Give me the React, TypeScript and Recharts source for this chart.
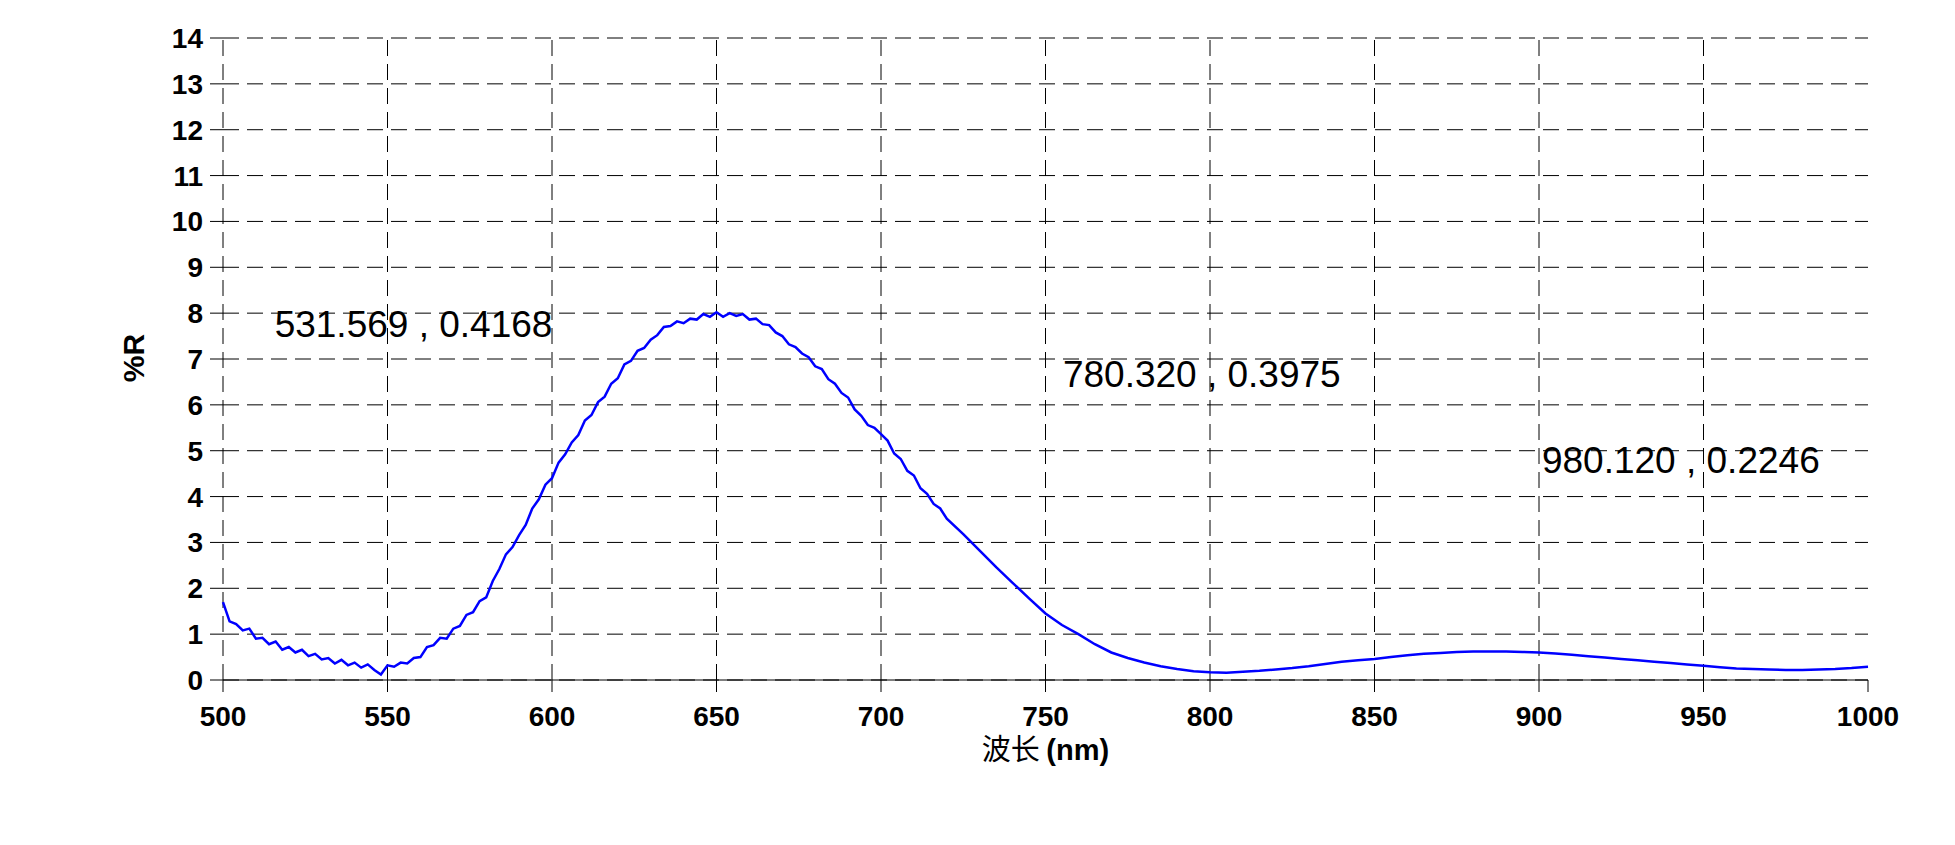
import { LineChart, Line, XAxis, YAxis, CartesianGrid, ReferenceLine, ReferenceDot } from 'recharts';

// wavelength (nm) and reflectance (%R)
const wavelengths = [
  500, 502, 504, 506, 508, 510, 512, 514, 516, 518, 520, 522, 524, 526, 528, 530, 532, 534, 536, 538,
  540, 542, 544, 546, 548, 550, 552, 554, 556, 558, 560, 562, 564, 566, 568, 570, 572, 574, 576, 578,
  580, 582, 584, 586, 588, 590, 592, 594, 596, 598, 600, 602, 604, 606, 608, 610, 612, 614, 616, 618,
  620, 622, 624, 626, 628, 630, 632, 634, 636, 638, 640, 642, 644, 646, 648, 650, 652, 654, 656, 658,
  660, 662, 664, 666, 668, 670, 672, 674, 676, 678, 680, 682, 684, 686, 688, 690, 692, 694, 696, 698,
  700, 702, 704, 706, 708, 710, 712, 714, 716, 718, 720,
  725, 730, 735, 740, 745, 750, 755, 760, 765, 770, 775, 780, 785, 790, 795, 800, 805, 810, 815, 820,
  825, 830, 835, 840, 845, 850, 855, 860, 865, 870, 875, 880, 885, 890, 895, 900, 905, 910, 915, 920,
  925, 930, 935, 940, 945, 950, 955, 960, 965, 970, 975, 980, 985, 990, 995, 1000,
];

const reflectance = [
  1.70, 1.28, 1.22, 1.08, 1.12, 0.90, 0.92, 0.78, 0.84, 0.66, 0.72, 0.60, 0.66, 0.52, 0.57, 0.45, 0.48, 0.36, 0.44, 0.32,
  0.38, 0.27, 0.34, 0.22, 0.12, 0.32, 0.29, 0.38, 0.36, 0.48, 0.50, 0.72, 0.76, 0.92, 0.90, 1.12, 1.18, 1.42, 1.48, 1.72,
  1.80, 2.16, 2.42, 2.74, 2.90, 3.16, 3.38, 3.74, 3.94, 4.26, 4.40, 4.74, 4.92, 5.18, 5.34, 5.66, 5.78, 6.06, 6.18, 6.46,
  6.58, 6.88, 6.96, 7.18, 7.24, 7.42, 7.52, 7.70, 7.72, 7.82, 7.78, 7.88, 7.86, 7.98, 7.92, 8.02, 7.92, 8.00, 7.94, 7.98,
  7.86, 7.88, 7.76, 7.74, 7.58, 7.50, 7.32, 7.26, 7.12, 7.04, 6.84, 6.78, 6.56, 6.46, 6.26, 6.16, 5.90, 5.76, 5.56, 5.50,
  5.36, 5.22, 4.94, 4.82, 4.56, 4.46, 4.18, 4.06, 3.84, 3.74, 3.52,
  3.18, 2.82, 2.46, 2.12, 1.78, 1.45, 1.20, 1.00, 0.78, 0.60, 0.48, 0.38, 0.30, 0.24, 0.19, 0.17, 0.16, 0.18, 0.20, 0.23,
  0.26, 0.30, 0.35, 0.40, 0.43, 0.46, 0.50, 0.54, 0.57, 0.59, 0.61, 0.62, 0.62, 0.62, 0.61, 0.60, 0.58, 0.55, 0.52, 0.49,
  0.46, 0.43, 0.40, 0.37, 0.34, 0.31, 0.28, 0.25, 0.24, 0.23, 0.22, 0.22, 0.23, 0.24, 0.26, 0.29,
];

const xTicks = [500, 550, 600, 650, 700, 750, 800, 850, 900, 950, 1000];
const yTicks = [0, 1, 2, 3, 4, 5, 6, 7, 8, 9, 10, 11, 12, 13, 14];

// cursor readouts shown on the plot
const readoutLabels = ['531.569 , 0.4168', '780.320 , 0.3975', '980.120 , 0.2246'];
const readoutAnchorX = [515.7, 755.3, 900.9];
const readoutAnchorY = [7.48, 6.4, 4.51];

const data = wavelengths.map((nm, i) => ({ nm, r: reflectance[i] }));

const tickFont = { fontFamily: 'Arial, "Liberation Sans", sans-serif', fontWeight: 'bold', fontSize: 28, fill: '#000' };

export default function App() {
  return (
    <LineChart width={1939} height={829} data={data} margin={{ top: 30, right: 79, bottom: 0, left: 0 }}>
      <CartesianGrid vertical={false} stroke="#000" strokeDasharray="16 8" />
      {xTicks.slice(0, -1).map(v => (
        <ReferenceLine key={v} x={v} stroke="#000" strokeDasharray="16 8" />
      ))}
      <XAxis
        dataKey="nm"
        type="number"
        domain={[500, 1000]}
        ticks={xTicks}
        height={157}
        stroke="#000"
        tickSize={12}
        tickMargin={14}
        tick={tickFont}
        label={{
          content: (p: any) => {
            const vb = p.viewBox;
            return (
              <text x={vb.x + vb.width / 2} y={vb.y + 80} textAnchor="middle" fontSize={29} fill="#000">
                <tspan fontFamily='"Noto Sans CJK SC", sans-serif'>波长 </tspan>
                <tspan fontFamily='Arial, "Liberation Sans", sans-serif' fontWeight="bold">(nm)</tspan>
              </text>
            );
          },
        }}
      />
      <YAxis
        type="number"
        domain={[0, 14]}
        ticks={yTicks}
        width={215}
        axisLine={false}
        stroke="#000"
        tickSize={13}
        tickMargin={7}
        tick={tickFont}
        label={{
          content: () => (
            <text
              x={125}
              y={350}
              transform="rotate(-90 125 350)"
              textAnchor="middle"
              dominantBaseline="central"
              fontFamily='Arial, "Liberation Sans", sans-serif'
              fontWeight="bold"
              fontSize={30}
              fill="#000"
            >
              %R
            </text>
          ),
        }}
      />
      <Line type="linear" dataKey="r" stroke="#0000ff" strokeWidth={2.5} dot={false} isAnimationActive={false} />
      {readoutLabels.map((txt, i) => (
        <ReferenceDot
          key={txt}
          x={readoutAnchorX[i]}
          y={readoutAnchorY[i]}
          r={0}
          shape={(p: any) => (
            <text x={p.cx} y={p.cy} fontFamily='Arial, "Liberation Sans", sans-serif' fontSize={37} fill="#000">
              {txt}
            </text>
          )}
        />
      ))}
    </LineChart>
  );
}
